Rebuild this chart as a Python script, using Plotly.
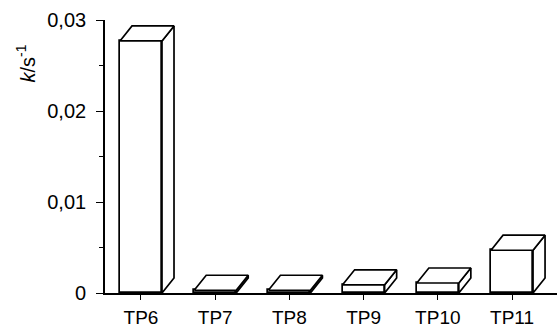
import plotly.graph_objects as go

# Rate constants per compound
categories = ["TP6", "TP7", "TP8", "TP9", "TP10", "TP11"]
k_values = [0.0277, 0.0003, 0.0003, 0.0009, 0.0011, 0.0047]
y_tick_vals = [0, 0.01, 0.02, 0.03]
y_tick_text = ["0", "0,01", "0,02", "0,03"]

# Pseudo-3D box geometry (front width and depth offsets in axis units)
BAR_W = 0.566
DEPTH_X = 0.162
DEPTH_Y = 0.00165
LINE_W = 1.7

xs = list(range(len(categories)))

fig = go.Figure()

# Front faces
fig.add_trace(go.Bar(
    x=xs, y=k_values, width=BAR_W,
    marker=dict(color="white", line=dict(color="black", width=LINE_W)),
    showlegend=False, hoverinfo="skip",
))

# Top and side faces as closed polygons
for xi, v in zip(xs, k_values):
    l = xi - BAR_W / 2
    r = xi + BAR_W / 2
    top_x = [l, r, r + DEPTH_X, l + DEPTH_X, l]
    top_y = [v, v, v + DEPTH_Y, v + DEPTH_Y, v]
    side_x = [r, r, r + DEPTH_X, r + DEPTH_X, r]
    side_y = [0, v, v + DEPTH_Y, DEPTH_Y, 0]
    for px, py in ((side_x, side_y), (top_x, top_y)):
        fig.add_trace(go.Scatter(
            x=px, y=py, mode="lines", fill="toself", fillcolor="white",
            line=dict(color="black", width=LINE_W),
            showlegend=False, hoverinfo="skip",
        ))

fig.update_layout(
    width=557, height=328,
    margin=dict(l=105, r=0, t=20, b=35),
    paper_bgcolor="white", plot_bgcolor="white",
    font=dict(family="Liberation Sans, Arial, sans-serif", size=19, color="black"),
    bargap=0,
)

fig.update_xaxes(
    range=[-0.485, 5.606],
    tickmode="array", tickvals=xs, ticktext=categories,
    showline=True, linecolor="black", linewidth=LINE_W,
    ticks="outside", ticklen=5, tickwidth=1.3, tickcolor="black",
    showgrid=False, zeroline=False,
    tickfont=dict(size=19),
    ticklabelstandoff=1,
)

fig.update_yaxes(
    range=[0, 0.03],
    tickmode="array", tickvals=y_tick_vals, ticktext=y_tick_text,
    showline=True, linecolor="black", linewidth=LINE_W,
    ticks="outside", ticklen=7, tickwidth=1.3, tickcolor="black",
    minor=dict(dtick=0.005, ticks="outside", ticklen=4, tickwidth=1.3, tickcolor="black"),
    showgrid=False, zeroline=False,
    tickfont=dict(size=20),
    ticklabelstandoff=6,
)

fig.add_annotation(
    text="<i>k</i>/s<sup>-1</sup>",
    xref="paper", yref="paper", x=-0.175, y=0.84,
    xanchor="center", yanchor="middle",
    textangle=-90, showarrow=False,
    font=dict(size=20, color="black"),
)

fig.write_html("out.html")
